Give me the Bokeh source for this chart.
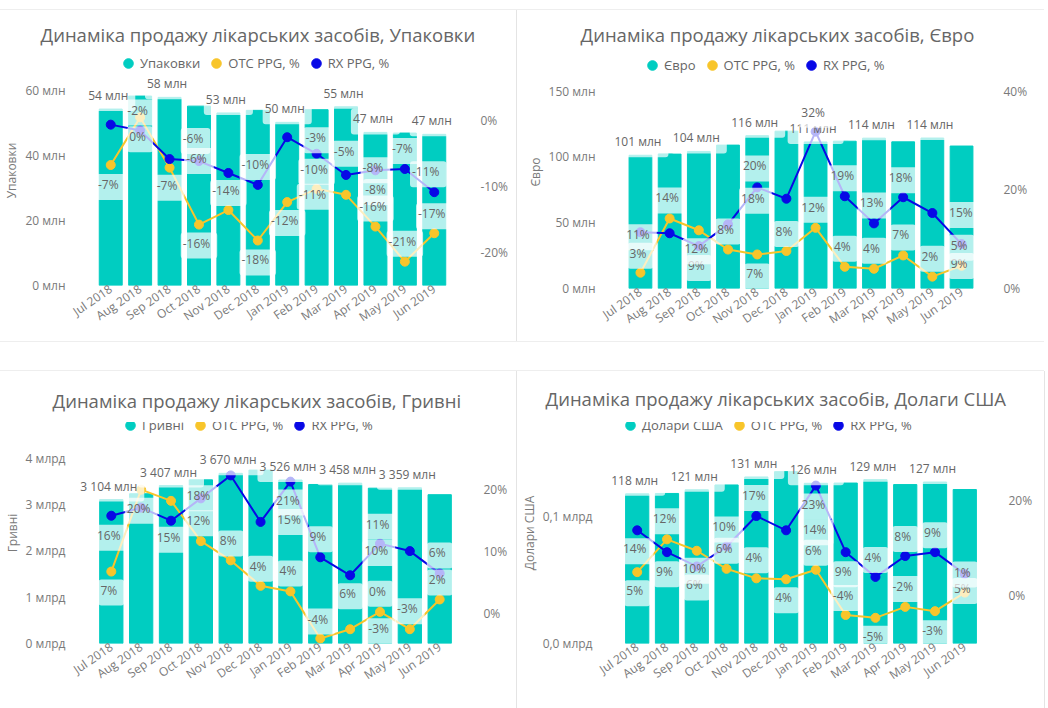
from bokeh.plotting import figure
from bokeh.models import (ColumnDataSource, Range1d, LinearAxis, FixedTicker, Div, FactorRange,
                          PrintfTickFormatter, CustomJSTickFormatter, Legend, LegendItem, Spacer)
from bokeh.layouts import column, row
from bokeh.core.properties import value
from bokeh.embed import file_html
from bokeh.resources import INLINE

# ---------------- data ----------------
months = ["Jul 2018", "Aug 2018", "Sep 2018", "Oct 2018", "Nov 2018", "Dec 2018",
          "Jan 2019", "Feb 2019", "Mar 2019", "Apr 2019", "May 2019", "Jun 2019"]

# Упаковки (млн)
packs = [54.4, 58.4, 58.0, 55.3, 53.2, 54.0, 50.3, 54.2, 55.1, 47.2, 47.0, 46.6]
packs_otc = [-6.8, 0.4, -7.2, -15.8, -13.6, -18.2, -12.4, -10.4, -11.3, -16.1, -21.4, -17.1]
packs_rx = [-0.7, -1.6, -5.9, -6.2, -8.0, -9.8, -2.6, -5.1, -8.3, -7.6, -7.4, -10.9]

# Євро (млн)
euro = [101.3, 102.3, 104.2, 109.0, 116.2, 119.6, 111.4, 112.0, 114.3, 111.5, 114.4, 108.3]
euro_otc = [3.2, 14.2, 11.8, 7.9, 6.9, 7.6, 12.3, 4.4, 4.0, 6.7, 2.4, 4.6]
euro_rx = [11.4, 11.2, 8.6, 13.0, 20.5, 18.2, 31.8, 18.7, 13.2, 18.5, 15.3, 9.0]

# Гривні (млн)
uah = [3104, 3230, 3407, 3530, 3670, 3740, 3526, 3430, 3458, 3350, 3359, 3210]
uah_otc = [6.7, 19.9, 18.1, 11.6, 8.5, 4.4, 3.5, -4.1, -2.6, 0.2, -2.6, 2.2]
uah_rx = [15.7, 17.0, 14.9, 18.5, 22.2, 14.7, 21.2, 9.0, 6.1, 11.2, 10.0, 6.4]

# Долари США (млн)
usd = [118.0, 118.3, 121.2, 125.0, 131.3, 135.5, 126.3, 126.5, 129.2, 125.3, 127.3, 121.4]
usd_otc = [5.0, 11.9, 9.5, 5.7, 3.7, 3.5, 5.5, -4.0, -4.6, -2.3, -3.2, 0.7]
usd_rx = [13.8, 9.2, 6.2, 10.4, 16.8, 13.8, 23.2, 9.2, 4.0, 8.4, 9.2, 4.6]

# ---------------- label placement (screen px; None = label hidden) ----------------
show_alt = [1, 0, 1, 0, 1, 0, 1, 0, 1, 0, 1, 0]
packs_show = [1, 0, 1, 0, 1, 0, 1, 0, 1, 1, 0, 1]
packs_otc_off = [(0, 22), (0, 22), (0, 20), (0, 21), (0, -17), (0, 22), (0, 21), (0, -17), (-31, 2), (0, -18), (0, -18), (0, -17)]
packs_rx_off = [None, (0, -18), (26, -18), (0, 0), None, (0, -18), (31, 3), (30, 0), (32, 17), (0, 0), (0, -18), (-6, -18)]
euro_otc_off = [(0, -17), (0, -18), (0, 21), (0, -18), (0, 22), (0, -17), (0, -18), (0, -18), (0, -18), (0, -18), (0, -18), (0, -18)]
euro_rx_off = [(0, 5), None, (0, 22), None, (0, -19), (-31, 2), (0, -17), (0, -18), (0, -18), (0, -17), (31, 2), (0, 22)]
uah_otc_off = [(0, 21), (0, 21), None, (0, -18), (0, -17), (0, -17), (0, -18), (0, -17), (31, 2), (0, -18), (0, -18), (0, -17)]
uah_rx_off = [(0, 22), None, (0, 19), (0, 0), None, (31, 0), (0, 21), (0, -18), (0, 21), (0, -17), (-31, 2), (0, -18)]
usd_otc_off = [(0, 21), (0, -18), (0, 20), (0, -18), (0, -18), (0, 21), (0, -17), (0, -17), (0, 21), (0, -18), (0, 22), (0, -18)]
usd_rx_off = [(0, 21), (0, 22), (0, 21), (0, -17), (0, -18), (31, 2), (0, 21), (0, 22), (0, -17), (0, -17), (0, -17), (0, 17)]

FONT = "Open Sans"
TEAL = "#00CDC1"
YELLOW = "#F8C52A"
BLUE = "#0808E6"
TXT = "#666666"
AXT = "#7a7a7a"
SEP = "#e4e4e4"


def pct_label(v):
    return f"{int(round(v))}%"


def make_panel(title, ytitle, name, vals, otc, rx, otc_off, rx_off, show,
               left_range, left_ticks, left_fmt, right_range, right_ticks, bar_fmt,
               w, h, mb_left, mb_right, mb_top, mb_bottom, nominal_fh, lstand, rstand,
               title_off, title_stand, leg_x):
    fh = h - mb_top - mb_bottom            # frame height incl. legend headroom
    grow = fh / nominal_fh                 # headroom above the value area for the legend
    lr = (left_range[0], left_range[0] + (left_range[1] - left_range[0]) * grow)
    rr = (right_range[0], right_range[0] + (right_range[1] - right_range[0]) * grow)

    p = figure(x_range=FactorRange(*months, range_padding=0.8, range_padding_units="absolute"),
               y_range=Range1d(*lr), width=w, height=h,
               output_backend="svg", toolbar_location=None, title=title,
               min_border_left=mb_left, min_border_right=mb_right,
               min_border_top=mb_top, min_border_bottom=mb_bottom)
    p.outline_line_color = None
    p.title.align = "left"
    p.title.offset = title_off
    p.title.standoff = title_stand
    p.title.text_font = FONT
    p.title.text_font_size = "18.5px"
    p.title.text_font_style = "normal"
    p.title.text_color = TXT

    p.extra_y_ranges = {"pct": Range1d(*rr)}
    p.add_layout(LinearAxis(y_range_name="pct", ticker=FixedTicker(ticks=right_ticks),
                            formatter=PrintfTickFormatter(format="%d%%")), "right")

    p.yaxis[0].ticker = FixedTicker(ticks=left_ticks)
    p.yaxis[0].formatter = left_fmt
    p.yaxis[0].axis_label = ytitle
    p.yaxis[0].axis_label_standoff = 2

    for ax in p.xaxis + p.yaxis:
        ax.axis_line_color = None
        ax.major_tick_line_color = None
        ax.minor_tick_line_color = None
        ax.major_tick_out = 0
        ax.major_tick_in = 0
        ax.minor_tick_out = 0
        ax.major_label_text_font = FONT
        ax.major_label_text_font_size = "12px"
        ax.major_label_text_color = AXT
        ax.axis_label_text_font = FONT
        ax.axis_label_text_font_size = "12px"
        ax.axis_label_text_font_style = "normal"
        ax.axis_label_text_color = AXT
    p.yaxis[0].major_label_standoff = lstand
    p.yaxis[1].major_label_standoff = rstand
    p.xaxis.major_label_orientation = 0.6
    p.xaxis.major_label_standoff = 2
    p.xgrid.grid_line_color = None
    p.ygrid.grid_line_color = None

    src = ColumnDataSource(dict(m=months, v=vals, otc=otc, rx=rx))
    p.vbar(x="m", top="v", width=0.78, source=src, color=TEAL)
    p.line(x="m", y="otc", source=src, y_range_name="pct", color=YELLOW, line_width=2)
    r_otc = p.scatter(x="m", y="otc", source=src, y_range_name="pct", color=YELLOW, size=9)
    p.line(x="m", y="rx", source=src, y_range_name="pct", color=BLUE, line_width=2)
    r_rx = p.scatter(x="m", y="rx", source=src, y_range_name="pct", color=BLUE, size=9)
    r_bar = p.scatter(x="m", y="v", source=src, color=TEAL, size=9, visible=False)

    lab_style = dict(text_align="center", text_baseline="middle", text_font=value(FONT),
                     text_font_size="12px", text_color=TXT,
                     background_fill_color="white", background_fill_alpha=0.7,
                     padding=(2, 7, 2, 7), border_radius=3)

    # bar labels
    bm, bv, bt = [], [], []
    for m, v, s in zip(months, vals, show):
        if s:
            bm.append(m); bv.append(v); bt.append(bar_fmt(v))
    p.text(x="m", y="v", text="t", y_offset=-11,
           source=ColumnDataSource(dict(m=bm, v=bv, t=bt)), **lab_style)

    # line labels
    for series, offs in ((rx, rx_off), (otc, otc_off)):
        lm, lv, lt, dx, dy = [], [], [], [], []
        for m, v, o in zip(months, series, offs):
            if o is None:
                continue
            lm.append(m); lv.append(v); lt.append(pct_label(v)); dx.append(o[0]); dy.append(o[1])
        p.text(x="m", y="v", text="t", x_offset="dx", y_offset="dy", y_range_name="pct",
               source=ColumnDataSource(dict(m=lm, v=lv, t=lt, dx=dx, dy=dy)), **lab_style)

    legend = Legend(items=[LegendItem(label=name, renderers=[r_bar]),
                           LegendItem(label="OTC PPG, %", renderers=[r_otc]),
                           LegendItem(label="RX PPG, %", renderers=[r_rx])],
                    orientation="horizontal", location=(leg_x, fh - 24),
                    glyph_width=24, glyph_height=24, label_standoff=0, spacing=4,
                    padding=0, margin=0, border_line_color=None, background_fill_alpha=0,
                    inactive_fill_alpha=0,
                    label_text_font=FONT, label_text_font_size="13px", label_text_color=TXT)
    p.add_layout(legend, "center")
    return p


def vline(h):
    return Div(width=1, height=h, margin=0, styles={"background-color": SEP})


def hline(w):
    return Div(width=w, height=1, margin=0, styles={"background-color": "#eeeeee"})


p1 = make_panel("Динаміка продажу лікарських засобів, Упаковки", "Упаковки", "Упаковки",
                packs, packs_otc, packs_rx, packs_otc_off, packs_rx_off, packs_show,
                (0, 60), [0, 20, 40, 60], PrintfTickFormatter(format="%d млн"),
                (-25, 4.4), [-20, -10, 0],
                lambda v: f"{int(round(v))} млн",
                516, 328, 70, 44, 43, 51, 198, 7, 8, -32, 18, 44)
p2 = make_panel("Динаміка продажу лікарських засобів, Євро", "Євро", "Євро",
                euro, euro_otc, euro_rx, euro_otc_off, euro_rx_off, show_alt,
                (0, 150), [0, 50, 100, 150], PrintfTickFormatter(format="%d млн"),
                (0, 40), [0, 20, 40],
                lambda v: f"{int(round(v))} млн",
                527, 331, 85, 45, 43, 53, 199, 7, 4, -22, 18, 38)
p3 = make_panel("Динаміка продажу лікарських засобів, Гривні", "Гривні", "Гривні",
                uah, uah_otc, uah_rx, uah_otc_off, uah_rx_off, show_alt,
                (0, 4000), [0, 1000, 2000, 3000, 4000],
                CustomJSTickFormatter(code="return (tick/1000).toFixed(0) + ' млрд'"),
                (-4.9, 25), [0, 10, 20],
                lambda v: f"{int(round(v)):,}".replace(",", " ") + " млн",
                516, 337, 70, 38, 42, 65, 193, 7, 5, -20, 20, 46)
p4 = make_panel("Динаміка продажу лікарських засобів, Долаги США", "Долари США", "Долари США",
                usd, usd_otc, usd_rx, usd_otc_off, usd_rx_off, show_alt,
                (0, 150), [0, 100],
                CustomJSTickFormatter(code="return (tick/1000).toFixed(1).replace('.', ',') + ' млрд'"),
                (-10, 30), [0, 20],
                lambda v: f"{int(round(v))} млн",
                527, 337, 81, 41, 42, 65, 198, 6, 5, -53, 24, 20)

layout = column(Spacer(height=9),
                hline(1044),
                row(p1, vline(331), p2),
                hline(1044),
                Spacer(height=28),
                hline(1044),
                row(p3, vline(337), p4, vline(337)))

open("out.html", "w").write(file_html(layout, INLINE))
